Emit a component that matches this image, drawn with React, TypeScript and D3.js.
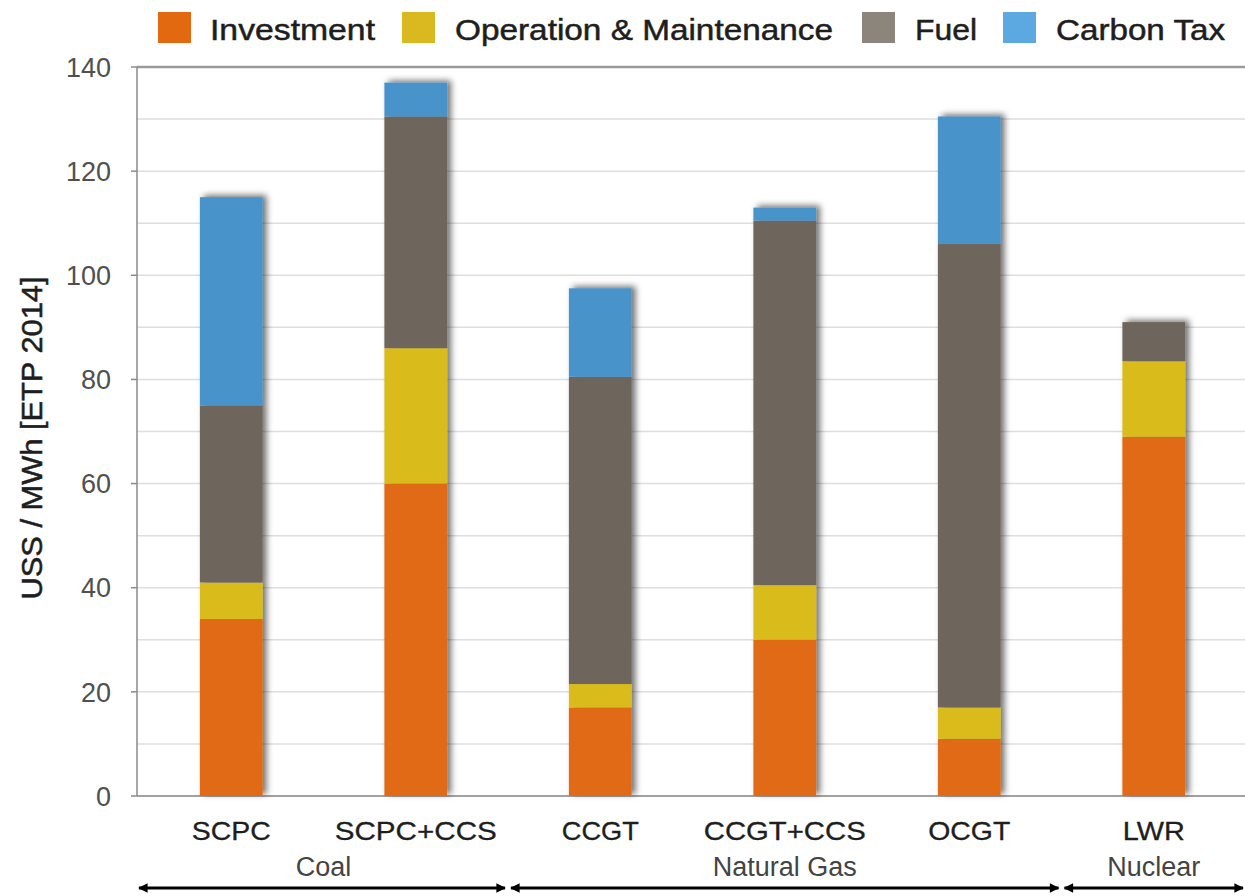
import React from 'react';
import * as d3 from 'd3';

const categories = ['SCPC', 'SCPC+CCS', 'CCGT', 'CCGT+CCS', 'OCGT', 'LWR'];
const seriesNames = ['Investment', 'Operation & Maintenance', 'Fuel', 'Carbon Tax'];
const investment = [34, 60, 17, 30, 11, 69];
const operationMaintenance = [7, 26, 4.5, 10.5, 6, 14.5];
const fuel = [34, 44.5, 59, 70, 89, 7.5];
const carbonTax = [40, 6.5, 17, 2.5, 24.5, 0];
const barColors = ['#E06A12', '#D9BC1F', '#6E655C', '#4A93CB'];
const legendColors = ['#E2690F', '#D9B91F', '#8C857C', '#5BA9E0'];
const yTicks = [0, 20, 40, 60, 80, 100, 120, 140];
const groups = [
  { label: 'Coal', start: 0, end: 2 },
  { label: 'Natural Gas', start: 2, end: 5 },
  { label: 'Nuclear', start: 5, end: 6 },
];
const yTitle = 'USS / MWh [ETP 2014]';

const W = 1245;
const H = 896;
const left = 137;
const top = 67;
const bottom = 796;

export default function App() {
  const keys = ['inv', 'om', 'fuel', 'co2'];
  const rows = categories.map((c, i) => ({
    cat: c,
    inv: investment[i],
    om: operationMaintenance[i],
    fuel: fuel[i],
    co2: carbonTax[i],
  }));
  const stack = d3.stack<any>().keys(keys)(rows);
  const x = d3.scaleBand<string>().domain(categories).range([139, 1246]).paddingInner(0.66).paddingOuter(0.33);
  const y = d3.scaleLinear().domain([0, 140]).range([bottom, top]);
  const step = x.step();
  const x0 = 139;
  const gridVals = d3.range(0, 141, 10);

  const legendItems = [
    { sq: 158, tx: 210, tw: 165 },
    { sq: 402, tx: 455, tw: 378 },
    { sq: 862, tx: 915, tw: 62 },
    { sq: 1003, tx: 1056, tw: 169 },
  ];
  const catWidths = [79, 162, 77, 162, 82, 62];

  return (
    <svg width={W} height={H} style={{ position: 'absolute', left: 0, top: 0, background: '#fff' }}
      fontFamily="'Liberation Sans', Arial, Helvetica, sans-serif">
      <defs>
        <filter id="shadow" x="-30%" y="-10%" width="160%" height="120%">
          <feDropShadow dx="4" dy="-2" stdDeviation="3" floodColor="#000" floodOpacity="0.55" />
        </filter>
        <marker id="ah" viewBox="0 0 10 10" refX="9" refY="5" markerWidth="3.6" markerHeight="3.2" orient="auto-start-reverse">
          <path d="M0,0 L10,5 L0,10 z" fill="#000" />
        </marker>
      </defs>
      <rect x={0} y={0} width={W} height={H} fill="#fff" />
      {/* gridlines */}
      {gridVals.map((v) => (
        <line key={v} x1={left} x2={W} y1={y(v)} y2={y(v)} stroke={v === 140 ? '#9a9a9a' : '#dedede'} strokeWidth={v === 140 ? 2.5 : 1.5} />
      ))}
      {/* axes */}
      <line x1={left} x2={left} y1={top} y2={bottom} stroke="#8a8a8a" strokeWidth={1.5} />
      <line x1={left} x2={W} y1={bottom} y2={bottom} stroke="#8a8a8a" strokeWidth={1.5} />
      {yTicks.map((t) => (
        <g key={t}>
          <line x1={left - 6} x2={left} y1={y(t)} y2={y(t)} stroke="#8a8a8a" strokeWidth={1.5} />
          <text x={111} y={y(t)} dy="0.36em" textAnchor="end" fontSize={27} fill="#505050">{t}</text>
        </g>
      ))}
      {/* bars */}
      {categories.map((c, i) => (
        <g key={c} filter="url(#shadow)">
          {stack.map((s, k) => {
            const d = s[i];
            const h = y(d[0]) - y(d[1]);
            if (h <= 0) return null;
            return <rect key={k} x={x(c)} y={y(d[1])} width={x.bandwidth()} height={h} fill={barColors[k]} />;
          })}
        </g>
      ))}
      {/* category labels */}
      {categories.map((c, i) => (
        <text key={c} x={(x(c) as number) + x.bandwidth() / 2} y={840} textAnchor="middle" fontSize={25}
          fill="#1e1e1e" stroke="#1e1e1e" strokeWidth={0.3} textLength={catWidths[i]} lengthAdjust="spacingAndGlyphs">{c}</text>
      ))}
      {/* groups */}
      {groups.map((g, i) => {
        const a = x0 + g.start * step + (i === 0 ? 0 : 3);
        const b = x0 + g.end * step - (i === groups.length - 1 ? 3 : 3);
        return (
          <g key={g.label}>
            <text x={x0 + ((g.start + g.end) / 2) * step} y={876} textAnchor="middle" fontSize={27} fill="#444">{g.label}</text>
            <line x1={a} x2={b} y1={888} y2={888} stroke="#000" strokeWidth={3}
              markerStart="url(#ah)" markerEnd="url(#ah)" />
          </g>
        );
      })}
      {/* y title */}
      <text transform={`translate(42,438) rotate(-90)`} textAnchor="middle" fontSize={29} fill="#1e1e1e" stroke="#1e1e1e" strokeWidth={0.5}
        textLength={323} lengthAdjust="spacingAndGlyphs">{yTitle}</text>
      {/* legend */}
      {seriesNames.map((n, i) => (
        <g key={n}>
          <rect x={legendItems[i].sq} y={12} width={33} height={31} fill={legendColors[i]} />
          <text x={legendItems[i].tx} y={40} fontSize={30} fill="#1e1e1e" stroke="#1e1e1e" strokeWidth={0.5}
            textLength={legendItems[i].tw} lengthAdjust="spacingAndGlyphs">{n}</text>
        </g>
      ))}
    </svg>
  );
}
